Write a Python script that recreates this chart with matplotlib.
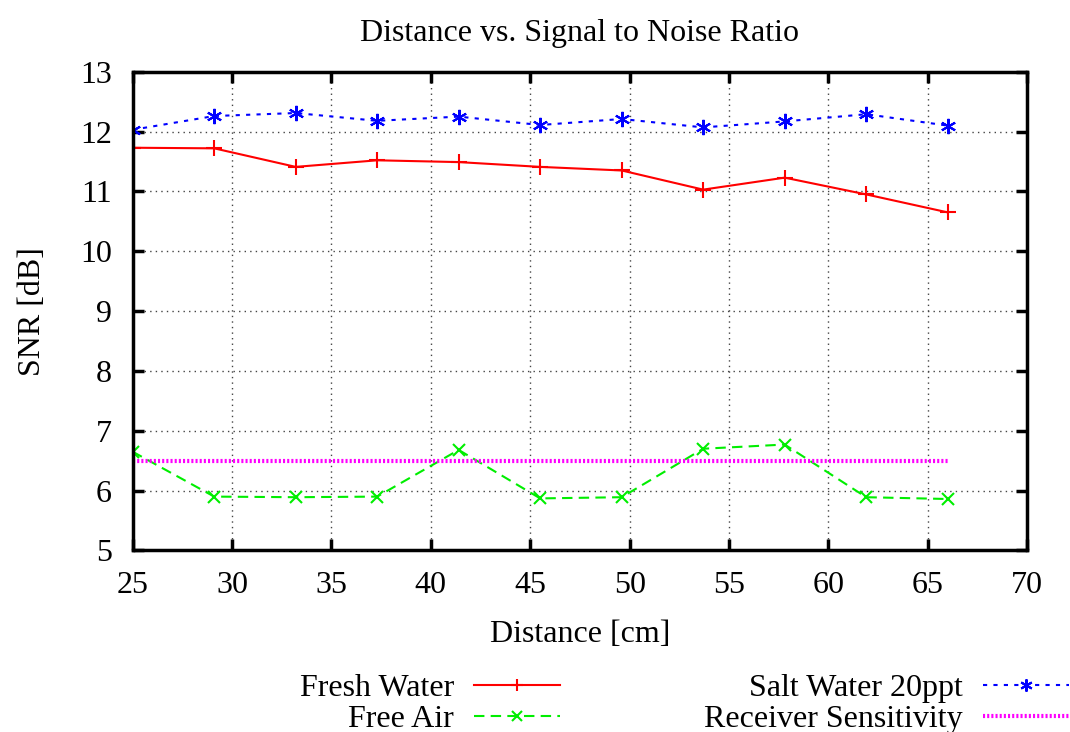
import numpy as np
import matplotlib.pyplot as plt

plt.rcParams['font.family'] = ['Liberation Serif', 'DejaVu Serif']

# data
distance = [25.0, 29.1, 33.2, 37.3, 41.4, 45.5, 49.6, 53.7, 57.8, 61.9, 66.0]
fresh_water = [11.73, 11.72, 11.41, 11.52, 11.49, 11.41, 11.35, 11.03, 11.23, 10.95, 10.65]
salt_water = [12.03, 12.26, 12.31, 12.18, 12.25, 12.11, 12.21, 12.07, 12.17, 12.29, 12.10]
free_air = [6.65, 5.90, 5.89, 5.90, 6.68, 5.87, 5.89, 6.70, 6.77, 5.89, 5.86]
sensitivity = [6.5] * len(distance)

x_ticks = [25, 30, 35, 40, 45, 50, 55, 60, 65, 70]
y_ticks = [5, 6, 7, 8, 9, 10, 11, 12, 13]

fs = 23

fig = plt.figure(figsize=(10.7, 7.32), dpi=100)
ax = fig.add_axes([0.124, 0.248, 0.836, 0.654])

l_fresh, = ax.plot(distance, fresh_water, color='#ff0000', lw=1.5, marker='+',
                   ms=11, mew=1.5, label='Fresh Water')
l_salt, = ax.plot(distance, salt_water, color='#0000ff', lw=1.5, ls=(0, (2, 3)),
                  marker=(6, 2, 0), ms=11, mew=1.5, label='Salt Water 20ppt')
l_air, = ax.plot(distance, free_air, color='#00ee00', lw=1.5, ls=(0, (5, 3)),
                 marker='x', ms=9, mew=1.5, label='Free Air')
l_sens, = ax.plot(distance, sensitivity, color='#ff00ff', lw=3, ls=(0, (0.5, 0.5)),
                  label='Receiver Sensitivity')

ax.set_xlim(25, 70)
ax.set_ylim(5, 13)
ax.set_xticks(x_ticks)
ax.set_yticks(y_ticks)
ax.grid(True, color='#444444', ls=(0, (1, 3)), lw=1)
ax.tick_params(direction='in', length=8, width=2.5, labelsize=fs, pad=15,
               top=True, right=True)
for sp in ax.spines.values():
    sp.set_linewidth(2.5)

ax.set_title('Distance vs. Signal to Noise Ratio', fontsize=fs, pad=22)
ax.set_xlabel('Distance [cm]', fontsize=fs, labelpad=14)
ax.set_ylabel('SNR [dB]', fontsize=fs, labelpad=24)

fig.legend([l_fresh, l_air, l_salt, l_sens],
           ['Fresh Water', 'Free Air', 'Salt Water 20ppt', 'Receiver Sensitivity'],
           ncol=2, markerfirst=False, frameon=False, fontsize=fs,
           loc='lower right', bbox_to_anchor=(1.026, -0.042),
           handlelength=2.7, handletextpad=0.63, columnspacing=4.5,
           labelspacing=0.06, markerscale=0.8)

fig.savefig('out.png', dpi=100)
